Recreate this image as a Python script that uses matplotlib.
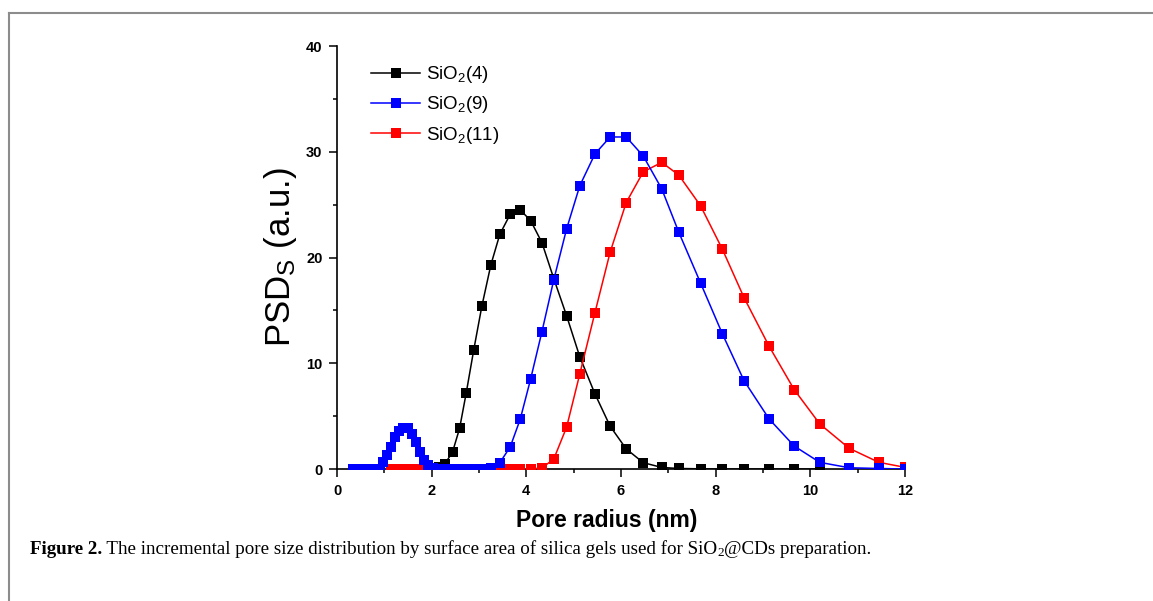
import matplotlib
matplotlib.use("Agg")
import matplotlib.pyplot as plt
from matplotlib.lines import Line2D
from matplotlib.ticker import MultipleLocator

plt.rcParams["font.family"] = ["Liberation Sans", "DejaVu Sans"]
plt.rcParams["mathtext.fontset"] = "custom"
plt.rcParams["mathtext.rm"] = "Liberation Sans"
plt.rcParams["mathtext.it"] = "Liberation Sans:italic"
plt.rcParams["mathtext.bf"] = "Liberation Sans:bold"

# pore radius (nm) and PSD_S values
r_blue = [0.34, 0.41, 0.48, 0.55, 0.62, 0.69, 0.76, 0.83, 0.90, 0.98,
          1.06, 1.14, 1.23, 1.31, 1.40, 1.49, 1.58, 1.67, 1.75, 1.84,
          1.93, 2.03, 2.15, 2.28, 2.44, 2.59, 2.73, 2.89, 3.06, 3.25,
          3.44, 3.66, 3.87, 4.09, 4.33, 4.58, 4.85, 5.13, 5.45, 5.77,
          6.11, 6.47, 6.86, 7.22, 7.68, 8.14, 8.60, 9.13, 9.66, 10.20,
          10.82, 11.45, 12.0]
psd_blue = [0, 0, 0, 0, 0, 0, 0, 0, 0, 0.7,
            1.3, 2.1, 3.05, 3.6, 3.9, 3.85, 3.35, 2.6, 1.65, 0.85,
            0.38, 0.1, 0, 0, 0, 0, 0, 0, 0, 0.05,
            0.6, 2.1, 4.7, 8.5, 13.0, 17.9, 22.7, 26.8, 29.8, 31.4,
            31.4, 29.6, 26.5, 22.4, 17.6, 12.8, 8.35, 4.73, 2.17, 0.63,
            0.12, 0.05, 0]

r_black = [1.14, 1.23, 1.31, 1.40, 1.49, 1.58, 1.67, 1.75, 1.84, 1.93,
           2.03, 2.15, 2.28, 2.44, 2.59, 2.73, 2.89, 3.06, 3.25, 3.44,
           3.66, 3.87, 4.09, 4.33, 4.58, 4.85, 5.13, 5.45, 5.77, 6.11,
           6.47, 6.86, 7.22, 7.68, 8.14, 8.60, 9.13, 9.66, 10.20]
psd_black = [0, 0, 0, 0, 0, 0, 0, 0, 0, 0,
             0.05, 0.15, 0.5, 1.6, 3.85, 7.2, 11.3, 15.4, 19.3, 22.2,
             24.1, 24.5, 23.5, 21.4, 18.0, 14.5, 10.6, 7.1, 4.05, 1.9,
             0.6, 0.15, 0.05, 0.02, 0, 0, 0, 0, 0]

r_red = [1.14, 1.23, 1.31, 1.40, 1.49, 1.58, 1.67, 1.75, 1.84, 1.93,
         2.03, 2.15, 2.28, 2.44, 2.59, 2.73, 2.89, 3.06, 3.25, 3.44,
         3.66, 3.87, 4.09, 4.33, 4.58, 4.85, 5.13, 5.45, 5.77, 6.11,
         6.47, 6.86, 7.22, 7.68, 8.14, 8.60, 9.13, 9.66, 10.20, 10.82,
         11.45, 12.0]
psd_red = [0, 0, 0, 0, 0, 0, 0, 0, 0, 0,
           0, 0, 0, 0, 0, 0, 0, 0, 0, 0,
           0, 0, 0, 0.1, 0.95, 3.95, 9.0, 14.8, 20.5, 25.2,
           28.1, 29.0, 27.8, 24.9, 20.8, 16.2, 11.6, 7.5, 4.26, 1.96,
           0.63, 0.16]

labels = ["SiO$_2$(4)", "SiO$_2$(9)", "SiO$_2$(11)"]
colors = ["black", "#0000ff", "#ff0000"]

fig = plt.figure(figsize=(11.53, 6.01), dpi=100)
ax = fig.add_axes([0.2923, 0.2196, 0.4926, 0.7038])

kw = dict(marker="s", markersize=7.3, linewidth=1.1, markeredgewidth=0)
l_black, = ax.plot(r_black, psd_black, color=colors[0], zorder=2, **kw)
l_red, = ax.plot(r_red, psd_red, color=colors[2], zorder=3, **kw)
l_blue, = ax.plot(r_blue, psd_blue, color=colors[1], zorder=4, **kw)

ax.set_xlim(0, 12)
ax.set_ylim(0, 40)
ax.xaxis.set_major_locator(MultipleLocator(2))
ax.xaxis.set_minor_locator(MultipleLocator(1))
ax.yaxis.set_major_locator(MultipleLocator(10))
ax.yaxis.set_minor_locator(MultipleLocator(5))
for s in ["top", "right"]:
    ax.spines[s].set_visible(False)
for s in ["left", "bottom"]:
    ax.spines[s].set_linewidth(1.2)
ax.tick_params(which="major", direction="out", length=5.5, width=1.1, pad=5)
ax.tick_params(which="minor", direction="out", length=3, width=1.1)
for lab in ax.get_xticklabels() + ax.get_yticklabels():
    lab.set_fontweight("bold")
    lab.set_fontsize(10.5)

ax.set_xlabel("Pore radius (nm)", fontsize=16.5, fontweight="bold", labelpad=10)
ax.xaxis.set_label_coords(0.474, -0.095)
ax.set_ylabel("PSD$_\\mathregular{S}$ (a.u.)", fontsize=25, labelpad=5)

leg = ax.legend([l_black, l_blue, l_red], labels, loc="upper left",
                bbox_to_anchor=(0.047, 0.975), frameon=False, fontsize=13.5,
                handlelength=2.6, handletextpad=0.3, labelspacing=0.5,
                borderaxespad=0)

# page frame
fig.add_artist(Line2D([8.5 / 1153, 1], [1 - 12.5 / 601, 1 - 12.5 / 601],
                      transform=fig.transFigure, color="#8c8c8c", lw=1.5))
fig.add_artist(Line2D([8.5 / 1153, 8.5 / 1153], [0, 1 - 12.5 / 601],
                      transform=fig.transFigure, color="#8c8c8c", lw=1.5))

# caption, placed piece by piece
renderer = fig.canvas.get_renderer()
cap_y = 1 - 549 / 601
x = 30
pieces = [
    ("Figure 2.", dict(fontweight="bold"), 0),
    (" The incremental pore size distribution by surface area of silica gels used for SiO", {}, 0),
    ("2", dict(fontsize=9.5), -4),
    ("@CDs preparation.", {}, 0),
]
for txt, extra, dy in pieces:
    props = dict(fontsize=13.7, family=["Liberation Serif", "DejaVu Serif"])
    props.update(extra)
    t = fig.text(x / 1153, cap_y + dy / 601, txt, va="center", ha="left", **props)
    x = t.get_window_extent(renderer).x1

fig.savefig("out.png", dpi=100)
